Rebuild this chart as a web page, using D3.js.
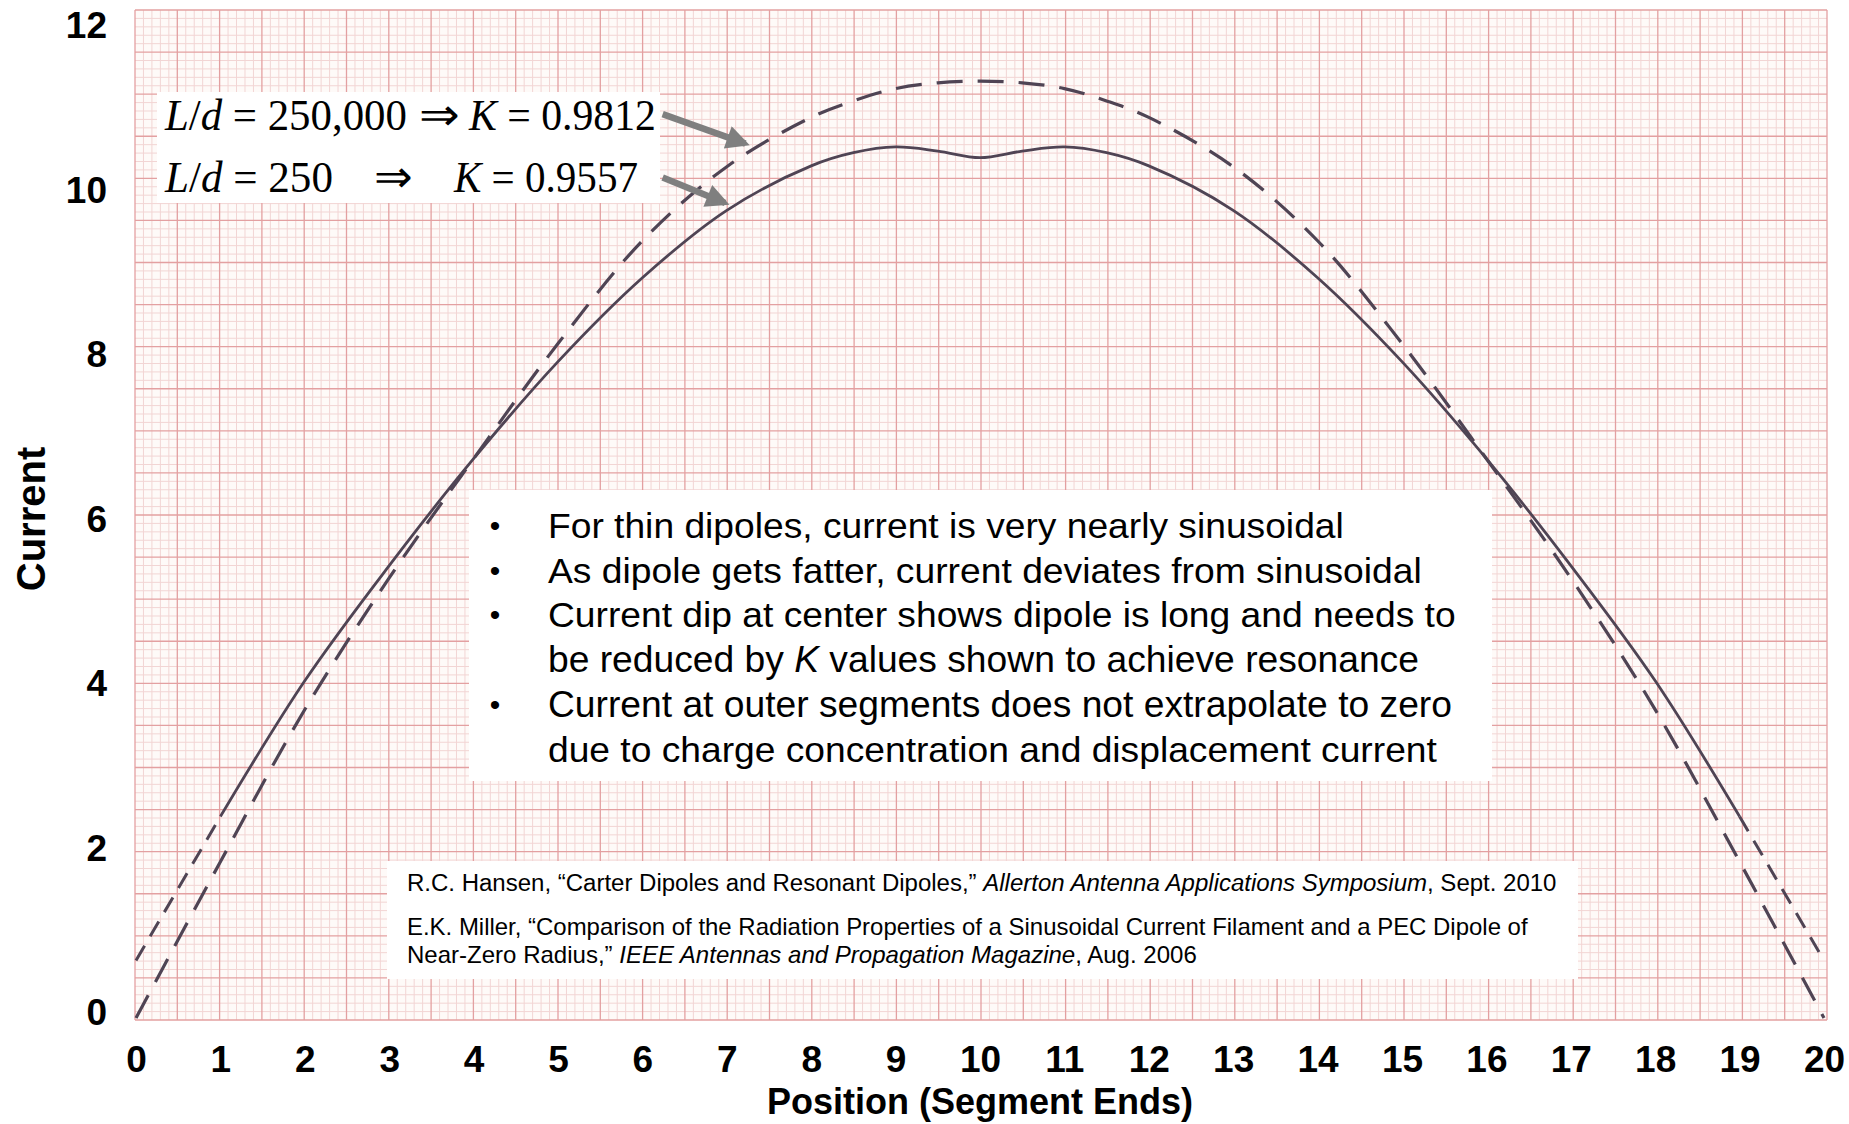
<!DOCTYPE html>
<html><head><meta charset="utf-8">
<script src="https://cdn.jsdelivr.net/npm/d3@7/dist/d3.min.js"></script>
<style>body{margin:0;background:#fff}svg{display:block}</style>
</head><body>
<svg id="c" width="1849" height="1124"></svg>
<script>
// ---- data ----
const xTicks = [0,1,2,3,4,5,6,7,8,9,10,11,12,13,14,15,16,17,18,19,20];
const yTicks = [0,2,4,6,8,10,12];
const positions = [0,1,2,3,4,5,6,7,8,8.5,9,9.5,10,10.5,11,11.5,12,13,14,15,16,17,18,19,20];
// L/d = 250,000 (thin, dashed)
const currentThin = [0,1.9,3.75,5.35,6.8,8.2,9.45,10.35,10.95,11.15,11.3,11.37,11.39,11.37,11.3,11.15,10.95,10.35,9.45,8.2,6.8,5.35,3.75,1.9,0];
// L/d = 250 (fat, solid; ends extrapolated dashed)
const currentFat = [0.7,2.45,4.1,5.5,6.8,7.98,9.0,9.82,10.36,10.52,10.59,10.54,10.46,10.54,10.59,10.52,10.36,9.82,9.0,7.98,6.8,5.5,4.1,2.45,0.7];
const xTitle = "Position (Segment Ends)";
const yTitle = "Current";
const arrows = [ // tail -> tip in data units
  {x1:6.24,y1:10.99,x2:7.22,y2:10.63},
  {x1:6.24,y1:10.22,x2:6.98,y2:9.91}
];
const bullets = [
  [["For thin dipoles, current is very nearly sinusoidal",0]],
  [["As dipole gets fatter, current deviates from sinusoidal",0]],
  [["Current dip at center shows dipole is long and needs to",0]],
  [["be reduced by ",0],["K",1],[" values shown to achieve resonance",0]],
  [["Current at outer segments does not extrapolate to zero",0]],
  [["due to charge concentration and displacement current",0]]
];
const bulletMarks = [1,1,1,0,1,0];
const refs = [
  [["R.C. Hansen, \u201cCarter Dipoles and Resonant Dipoles,\u201d ",0],["Allerton Antenna Applications Symposium",1],[", Sept. 2010",0]],
  [["E.K. Miller, \u201cComparison of the Radiation Properties of a Sinusoidal Current Filament and a PEC Dipole of",0]],
  [["Near-Zero Radius,\u201d ",0],["IEEE Antennas and Propagation Magazine",1],[", Aug. 2006",0]]
];

// ---- drawing ----
const svg = d3.select("#c");
const x = d3.scaleLinear().domain([0,20]).range([136,1824]);
const y = d3.scaleLinear().domain([0,12]).range([1018,31]);

// graph paper background
const P = {x0:135,x1:1827,y0:10,y1:1020};
const paper = svg.append("g");
paper.append("rect").attr("x",P.x0).attr("y",P.y0).attr("width",P.x1-P.x0).attr("height",P.y1-P.y0).attr("fill","#fefaf8");
const px = d3.scaleLinear().domain([0,200]).range([P.x0,P.x1]);
const py = d3.scaleLinear().domain([0,120]).range([P.y1,P.y0]);
const fineX = d3.range(0,201), fineY = d3.range(0,121);
const fineCol = "#f2d5d4", majorCol = "#e3a0a1";
paper.selectAll(".fv").data(fineX.filter(d=>d%5)).enter().append("line")
  .attr("x1",d=>px(d)).attr("x2",d=>px(d)).attr("y1",P.y0).attr("y2",P.y1)
  .attr("stroke",fineCol).attr("stroke-width",1);
paper.selectAll(".fh").data(fineY.filter(d=>d%5)).enter().append("line")
  .attr("y1",d=>py(d)).attr("y2",d=>py(d)).attr("x1",P.x0).attr("x2",P.x1)
  .attr("stroke",fineCol).attr("stroke-width",1);
paper.selectAll(".mv").data(fineX.filter(d=>d%5===0)).enter().append("line")
  .attr("x1",d=>px(d)).attr("x2",d=>px(d)).attr("y1",P.y0).attr("y2",P.y1)
  .attr("stroke",majorCol).attr("stroke-width",1.3);
paper.selectAll(".mh").data(fineY.filter(d=>d%5===0)).enter().append("line")
  .attr("y1",d=>py(d)).attr("y2",d=>py(d)).attr("x1",P.x0).attr("x2",P.x1)
  .attr("stroke",majorCol).attr("stroke-width",1.3);

// curves
const pts = (arr)=>positions.map((p,i)=>[p,arr[i]]);
const line = d3.line().x(d=>x(d[0])).y(d=>y(d[1])).curve(d3.curveCatmullRom.alpha(0.5));
const curveColor = "#4f4454";
svg.append("path").attr("d",line(pts(currentThin))).attr("fill","none")
  .attr("stroke",curveColor).attr("stroke-width",3.2).attr("stroke-dasharray","26,15");
const fat = pts(currentFat);
svg.append("path").attr("d",line(fat.filter(d=>d[0]>=1&&d[0]<=19))).attr("fill","none")
  .attr("stroke",curveColor).attr("stroke-width",2.8);
const straight = d3.line().x(d=>x(d[0])).y(d=>y(d[1]));
[fat.filter(d=>d[0]<=1), fat.filter(d=>d[0]>=19)].forEach(seg=>{
  svg.append("path").attr("d",straight(seg)).attr("fill","none")
    .attr("stroke",curveColor).attr("stroke-width",3).attr("stroke-dasharray","17,11");
});

// axes
const fontBold = "'Liberation Sans', Arial, sans-serif";
const gx = svg.append("g").attr("transform","translate(0,1018)")
  .call(d3.axisBottom(x).tickValues(xTicks).tickSize(0).tickFormat(d3.format("d")));
gx.select(".domain").remove();
gx.selectAll("text").attr("y",54).attr("dy",0).attr("font-family",fontBold).attr("font-weight","bold").attr("font-size",37).attr("fill","#000");
const gy = svg.append("g").attr("transform","translate(136,0)")
  .call(d3.axisLeft(y).tickValues(yTicks).tickSize(0).tickFormat(d3.format("d")));
gy.select(".domain").remove();
gy.selectAll("text").attr("x",-29).attr("y",-6.5).attr("dy","0.36em").attr("font-family",fontBold).attr("font-weight","bold").attr("font-size",37).attr("fill","#000");

svg.append("text").attr("x",980).attr("y",1114).attr("text-anchor","middle")
  .attr("font-family",fontBold).attr("font-weight","bold").attr("font-size",36).text(xTitle);
svg.append("text").attr("transform","translate(45,519) rotate(-90)").attr("text-anchor","middle")
  .attr("font-family",fontBold).attr("font-weight","bold").attr("font-size",40).text(yTitle);

// helper to fit text width
function fit(node, w){
  const bb = node.getBBox(); const s = w/bb.width; const x0 = bb.x;
  d3.select(node).attr("transform",`translate(${x0},0) scale(${s},1) translate(${-x0},0)`);
}
function rich(g, parts, xx, yy, size, family){
  const t = g.append("text").attr("x",xx).attr("y",yy).attr("font-size",size).attr("font-family",family).attr("fill","#000");
  parts.forEach(p=>t.append("tspan").attr("font-style",p[1]?"italic":"normal").text(p[0]));
  return t;
}

// formula box
const serif = "'Liberation Serif','Times New Roman',serif";
svg.append("rect").attr("x",157).attr("y",92).attr("width",503).attr("height",111).attr("fill","#fff");
const f = svg.append("g");
const t1 = rich(f,[["L",1],["/",0],["d",1],[" = 250,000",0]],165,130,45,serif); fit(t1.node(),243);
const t1b = rich(f,[["\u21d2",0]],419,130,45,serif); fit(t1b.node(),41);
const t1c = rich(f,[["K",1],[" = 0.9812",0]],469,130,45,serif); fit(t1c.node(),188);
const t2 = rich(f,[["L",1],["/",0],["d",1],[" = 250",0]],165,192,45,serif); fit(t2.node(),169);
const t2b = rich(f,[["\u21d2",0]],374,192,45,serif); fit(t2b.node(),39);
const t2c = rich(f,[["K",1],[" = 0.9557",0]],454,192,45,serif); fit(t2c.node(),185);

// arrows
const defs = svg.append("defs");
defs.append("marker").attr("id","ah").attr("viewBox","0 0 10 10").attr("refX",8).attr("refY",5)
  .attr("markerWidth",4.2).attr("markerHeight",3.6).attr("orient","auto").attr("markerUnits","strokeWidth")
  .append("path").attr("d","M0,0 L10,5 L0,10 z").attr("fill","#7f7f7f");
svg.selectAll(".arr").data(arrows).enter().append("line")
  .attr("x1",d=>x(d.x1)).attr("y1",d=>y(d.y1)).attr("x2",d=>x(d.x2)).attr("y2",d=>y(d.y2))
  .attr("stroke","#7f7f7f").attr("stroke-width",6.5).attr("marker-end","url(#ah)");

// bullet box
const sans = "'Liberation Sans', Arial, sans-serif";
svg.append("rect").attr("x",469).attr("y",490).attr("width",1023).attr("height",291).attr("fill","#fff");
const bWidths = [796,874,908,871,904,889];
const bBase = [538,583,627,672,717,762];
const bg = svg.append("g");
bullets.forEach((parts,i)=>{
  const t = rich(bg,parts,548,bBase[i],36,sans); fit(t.node(),bWidths[i]);
  if(bulletMarks[i]) bg.append("text").attr("x",495).attr("y",bBase[i]-2).attr("text-anchor","middle")
    .attr("font-family",sans).attr("font-size",30).text("\u2022");
});

// reference box
svg.append("rect").attr("x",387).attr("y",861).attr("width",1191).attr("height",118).attr("fill","#fff");
const rWidths = [1150,1122,790];
const rBase = [891,935,963];
const rg = svg.append("g");
refs.forEach((parts,i)=>{ const t = rich(rg,parts,407,rBase[i],23,sans); fit(t.node(),rWidths[i]); });
</script>
</body></html>
